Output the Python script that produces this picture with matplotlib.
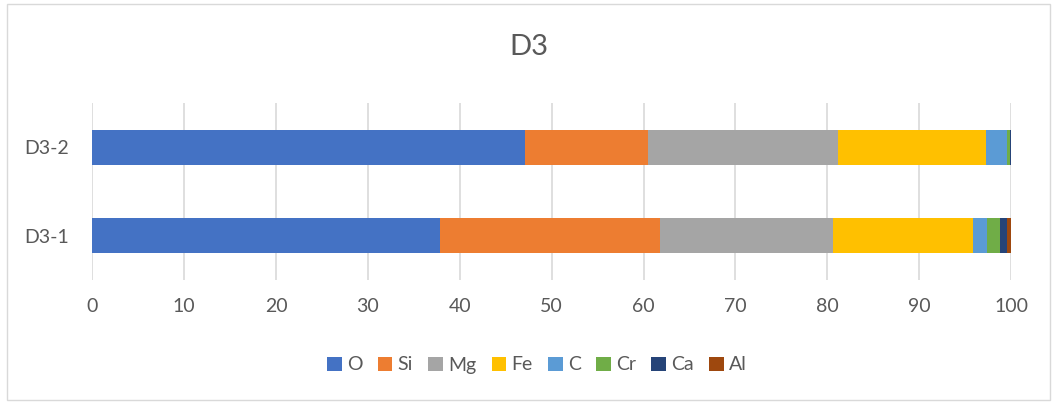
import matplotlib
matplotlib.use("Agg")
import matplotlib.pyplot as plt
from matplotlib.patches import Rectangle

plt.rcParams['font.family'] = ['Lato', 'DejaVu Sans']

# data
samples = ["D3-1", "D3-2"]
elements = ["O", "Si", "Mg", "Fe", "C", "Cr", "Ca", "Al"]
d3_1 = [37.8, 24.0, 18.8, 15.3, 1.5, 1.4, 0.8, 0.5]
d3_2 = [47.1, 13.4, 20.7, 16.05, 2.35, 0.25, 0.15, 0.0]
colors = ["#4472C4", "#ED7D31", "#A5A5A5", "#FFC000",
          "#5B9BD5", "#70AD47", "#264478", "#9E480E"]
x_ticks = list(range(0, 101, 10))

fig = plt.figure(figsize=(10.54, 4.03), dpi=100)
ax = fig.add_axes([92.3 / 1054, 123 / 403, (1011 - 92.3) / 1054, 177 / 403])

# outer chart border
fig.patches.append(Rectangle((7 / 1054, 3 / 403), 1043 / 1054, 396 / 403,
                             transform=fig.transFigure, fill=False,
                             edgecolor="#D9D9D9", linewidth=1))

left = [0.0, 0.0]
for i, el in enumerate(elements):
    vals = [d3_1[i], d3_2[i]]
    ax.barh(samples, vals, left=left, height=0.4, color=colors[i],
            label=el, zorder=3)
    left = [left[0] + vals[0], left[1] + vals[1]]

ax.set_xlim(0, 100)
ax.set_ylim(-0.5, 1.5)
ax.set_xticks(x_ticks)
ax.xaxis.grid(True, color="#D9D9D9", linewidth=1.2, zorder=0)
for s in ax.spines.values():
    s.set_visible(False)
ax.tick_params(axis="both", length=0, labelsize=14, labelcolor="#595959")
ax.tick_params(axis="x", pad=13)
ax.tick_params(axis="y", pad=17)

fig.text(0.5 + 2 / 1054, 1 - 47 / 403, "D3", ha="center", va="center",
         fontsize=21, color="#595959")

fig.legend(loc="center", bbox_to_anchor=(537 / 1054, 1 - 365 / 403), ncol=8,
           frameon=False, fontsize=14, labelcolor="#595959",
           handlelength=0.75, handleheight=0.75, handletextpad=0.26,
           columnspacing=0.8)

fig.savefig("out.png", dpi=100)
